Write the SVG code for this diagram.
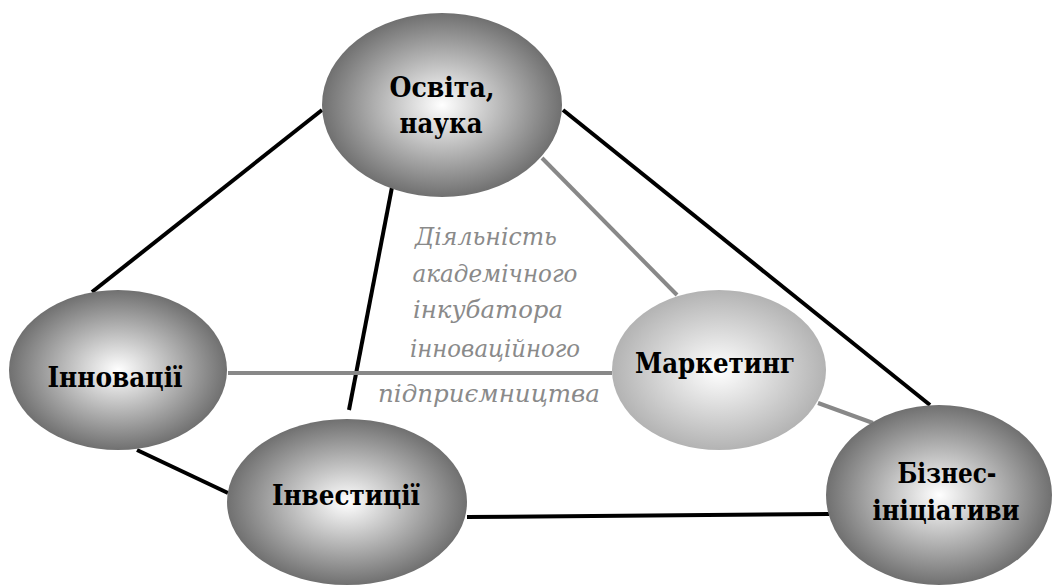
<svg xmlns="http://www.w3.org/2000/svg" width="1057" height="586" viewBox="0 0 1057 586">
<style>
.blk{stroke:#000;stroke-width:4;fill:none}
.gry{stroke:#888;stroke-width:4;fill:none}
.lbl{font-family:"DejaVu Serif","Liberation Serif",serif;font-weight:bold;font-size:28px;fill:#000;text-anchor:middle}
.mid{font-family:"DejaVu Serif","Liberation Serif",serif;font-style:italic;font-size:24px;fill:#8a8a8a;text-anchor:middle}
</style>
<defs>
<radialGradient id="dark" cx="50%" cy="50%" r="50%">
<stop offset="0" stop-color="#ffffff"/>
<stop offset="1" stop-color="#707070"/>
</radialGradient>
<radialGradient id="light" cx="50%" cy="50%" r="50%">
<stop offset="0" stop-color="#ffffff"/>
<stop offset="1" stop-color="#b3b3b3"/>
</radialGradient>
</defs>
<rect width="1057" height="586" fill="#fff"/>
<g id="connectors">
<line class="blk" x1="322" y1="110" x2="92" y2="292"/>
<line class="blk" x1="563" y1="110" x2="930" y2="405"/>
<line class="blk" x1="393" y1="182" x2="349" y2="410"/>
<line class="gry" x1="542" y1="158" x2="677" y2="295"/>
<line class="gry" x1="228" y1="373" x2="612" y2="373"/>
<line class="gry" x1="818" y1="403" x2="873" y2="423"/>
<line class="blk" x1="137" y1="450" x2="228" y2="493"/>
<line class="blk" x1="467" y1="517" x2="829" y2="514"/>
</g>
<g id="center-text">
<text class="mid" x="486" y="245" textLength="142" lengthAdjust="spacingAndGlyphs">Діяльність</text>
<text class="mid" x="495" y="282" textLength="165" lengthAdjust="spacingAndGlyphs">академічного</text>
<text class="mid" x="488" y="318" textLength="150" lengthAdjust="spacingAndGlyphs">інкубатора</text>
<text class="mid" x="495" y="357" textLength="170" lengthAdjust="spacingAndGlyphs">інноваційного</text>
<text class="mid" x="489" y="402" textLength="222" lengthAdjust="spacingAndGlyphs">підприємництва</text>
</g>
<g id="osvita">
<ellipse cx="442" cy="105" rx="120" ry="92" fill="url(#dark)"/>
<text class="lbl" x="442" y="97" textLength="105" lengthAdjust="spacingAndGlyphs">Освіта,</text>
<text class="lbl" x="441" y="133" textLength="83" lengthAdjust="spacingAndGlyphs">наука</text>
</g>
<g id="innovatsii">
<ellipse cx="118" cy="370" rx="109" ry="80" fill="url(#dark)"/>
<text class="lbl" x="115" y="387" textLength="135" lengthAdjust="spacingAndGlyphs">Інновації</text>
</g>
<g id="marketing">
<ellipse cx="719" cy="370" rx="107" ry="80" fill="url(#light)"/>
<text class="lbl" x="715" y="373" textLength="160" lengthAdjust="spacingAndGlyphs">Маркетинг</text>
</g>
<g id="investytsii">
<ellipse cx="347" cy="502" rx="120" ry="83" fill="url(#dark)"/>
<text class="lbl" x="346" y="505" textLength="148" lengthAdjust="spacingAndGlyphs">Інвестиції</text>
</g>
<g id="biznes">
<ellipse cx="939" cy="495" rx="113" ry="90" fill="url(#dark)"/>
<text class="lbl" x="947" y="483" textLength="99" lengthAdjust="spacingAndGlyphs">Бізнес-</text>
<text class="lbl" x="946" y="520" textLength="147" lengthAdjust="spacingAndGlyphs">ініціативи</text>
</g>
</svg>
